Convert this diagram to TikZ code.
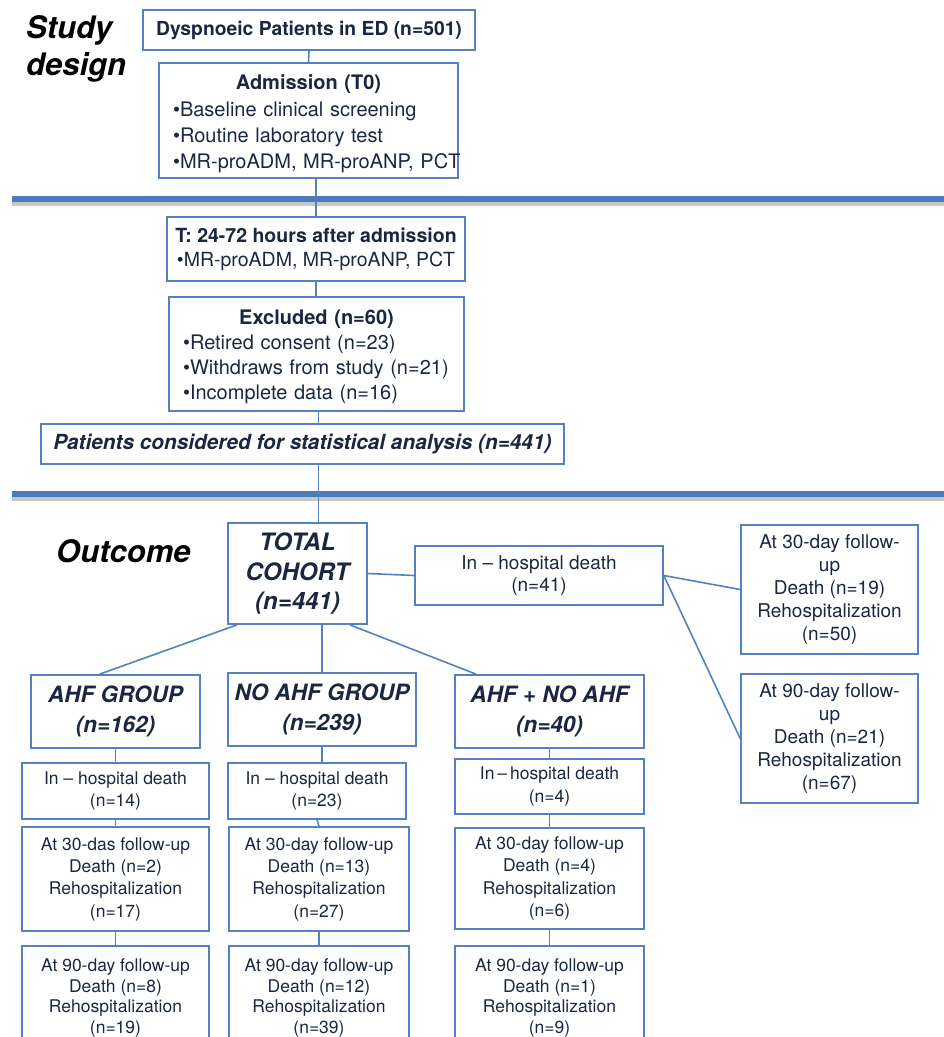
\documentclass[tikz,border=0pt]{standalone}
\usepackage{fontspec}
\setmainfont{TeX Gyre Heros}
\usetikzlibrary{positioning}

\definecolor{boxblue}{RGB}{84,130,192}
\definecolor{sepblue}{RGB}{74,124,187}
\definecolor{navy}{RGB}{27,39,64}
\newcommand{\setfs}[2]{\fontsize{#1}{#2}\selectfont}
\newcommand{\bul}[1]{\mbox{\textbullet #1}}

\tikzset{
  box/.style={draw=boxblue, line width=1.6pt, text=navy, align=center, inner sep=0pt},
  link/.style={draw=boxblue, line width=1.6pt},
  head/.style={font=\setfs{31pt}{37pt}\bfseries\itshape, align=left, inner sep=0pt},
  sepline/.style={draw=sepblue, line width=6pt},
  sepshade/.style={draw=black!22, line width=4pt},
  bullets/.style={box, align=left, inner xsep=1pt},
}

\begin{document}
\begin{tikzpicture}[x=1pt,y=-1pt]
\path[use as bounding box] (0,0) rectangle (944,1037);
\clip (0,0) rectangle (944,1037);

% separators
\draw[sepshade] (12,203.5) -- (944,203.5);
\draw[sepline] (12,198.5) -- (944,198.5);
\draw[sepshade] (12,498.5) -- (944,498.5);
\draw[sepline] (12,493.5) -- (944,493.5);

% headings
\node[head, anchor=north west] (study) at (26,15) {Study\\design};
\node[head, anchor=west] (outcome) at (56,551) {Outcome};

% study design
\node[box, font=\setfs{19.3pt}{23pt}\bfseries, minimum width=332pt, minimum height=40pt] (ed) at (309,30) {Dyspnoeic Patients in ED (n=501)};
\node[bullets, font=\setfs{20pt}{26.3pt}, text width=297pt, minimum height=115pt] (adm) at (308.5,120.5)
  {\centering\bfseries Admission (T0)\par\raggedright\leftskip=13pt\mdseries
   \bul{Baseline clinical screening}\\\bul{Routine laboratory test}\\\bul{MR-proADM, MR-proANP, PCT}\par\vspace*{-7pt}};
\node[box, font=\setfs{19.5pt}{24pt}, minimum width=298pt, minimum height=64pt] (late) at (316,249)
  {\textbf{T: 24-72 hours after admission}\\\textbullet MR-proADM, MR-proANP, PCT};
\node[bullets, font=\setfs{20pt}{25pt}, text width=293pt, minimum height=114pt] (excl) at (316.5,354)
  {\centering\bfseries Excluded (n=60)\par\raggedright\leftskip=13pt\mdseries
   \bul{Retired consent (n=23)}\\\bul{Withdraws from study (n=21)}\\\bul{Incomplete data (n=16)}\par\vspace*{-5pt}};
\node[box, font=\setfs{20.8pt}{24pt}\bfseries\itshape, minimum width=523pt, minimum height=40pt] (anal) at (302.5,444)
  {Patients considered for statistical analysis (n=441)};

% outcome
\node[box, font=\setfs{24pt}{29.5pt}\bfseries\itshape, minimum width=139pt, minimum height=101pt] (total) at (297.5,573.5) {TOTAL\\COHORT\\(n=441)};
\node[box, font=\setfs{19pt}{22pt}, minimum width=248pt, minimum height=59pt] (hosp) at (539,575.5) {In -- hospital death\\(n=41)};
\node[box, font=\setfs{19pt}{22.8pt}, minimum width=177pt, minimum height=129pt] (rthirty) at (829.5,589.5)
  {At 30-day follow-\\up\\Death (n=19)\\Rehospitalization\\(n=50)};
\node[box, font=\setfs{19pt}{22.8pt}, minimum width=177pt, minimum height=129pt] (rninety) at (829.5,738.5)
  {At 90-day follow-\\up\\Death (n=21)\\Rehospitalization\\(n=67)};

% groups
\tikzset{grp/.style={box, font=\setfs{22.5pt}{30pt}\bfseries\itshape, minimum height=73pt},
         small/.style={box, font=\setfs{17.5pt}{22.3pt}},
         last/.style={box, font=\setfs{17.5pt}{20.8pt}, minimum height=104pt}}
\node[grp, minimum width=169pt] (gahf) at (115.5,711.5) {AHF GROUP\\(n=162)};
\node[grp, minimum width=188pt] (gno) at (322,709.5) {NO AHF GROUP\\(n=239)};
\node[grp, minimum width=189pt] (gboth) at (549.5,711.5) {AHF + NO AHF\\(n=40)};

\node[small, minimum width=187pt, minimum height=56pt] (hahf) at (115.5,791) {In -- hospital death\\(n=14)};
\node[small, minimum width=178pt, minimum height=56pt] (hno) at (317,791) {In -- hospital death\\(n=23)};
\node[small, minimum width=189pt, minimum height=55pt] (hboth) at (549.5,786.5) {In\,--\,hospital death\\(n=4)};

\node[small, minimum width=187pt, minimum height=104pt] (tahf) at (115.5,879) {At 30-das follow-up\\Death (n=2)\\Rehospitalization\\(n=17)};
\node[small, minimum width=180pt, minimum height=104pt] (tno) at (319,879) {At 30-day follow-up\\Death (n=13)\\Rehospitalization\\(n=27)};
\node[small, minimum width=189pt, minimum height=101pt] (tboth) at (549.5,878.5) {At 30-day follow-up\\Death (n=4)\\Rehospitalization\\(n=6)};

\node[last, minimum width=187pt] (nahf) at (115.5,998) {At 90-day follow-up\\Death (n=8)\\Rehospitalization\\(n=19)};
\node[last, minimum width=180pt] (nno) at (319,998) {At 90-day follow-up\\Death (n=12)\\Rehospitalization\\(n=39)};
\node[last, minimum width=189pt] (nboth) at (549.5,998) {At 90-day follow-up\\Death (n=1)\\Rehospitalization\\(n=9)};

% connectors
\draw[link] (ed.south) -- (adm.north);
\draw[link] (late.north) -- (late.north |- adm.south);
\draw[link] (late.south) -- (late.south |- excl.north);
\draw[link] ([xshift=2pt]excl.south) -- ([xshift=2pt]excl.south |- anal.north);
\draw[link] ([xshift=2pt]excl.south |- anal.south) -- ([xshift=2pt]excl.south |- total.north);
\draw[link] (total.east) -- (hosp.west);
\draw[link] (hosp.east) -- (rthirty.west);
\draw[link] (hosp.east) -- (rninety.west);
\draw[link] ([xshift=10pt]total.south west) -- ([xshift=-16pt]gahf.north);
\draw[link] (gno.north) -- (gno.north |- total.south);
\draw[link] ([xshift=-18pt]total.south east) -- ([xshift=22pt]gboth.north west);
\draw[link] (gahf.south) -- (hahf.north);
\draw[link] (gno.south) -- (gno.south |- hno.north);
\draw[link] (gboth.south) -- (hboth.north);
\draw[link] (hahf.south) -- (tahf.north);
\draw[link] (hno.south) -- (tno.north);
\draw[link] (hboth.south) -- (tboth.north);
\draw[link] (tahf.south) -- (nahf.north);
\draw[link] (tno.south) -- (nno.north);
\draw[link] (tboth.south) -- (nboth.north);
\end{tikzpicture}
\end{document}
